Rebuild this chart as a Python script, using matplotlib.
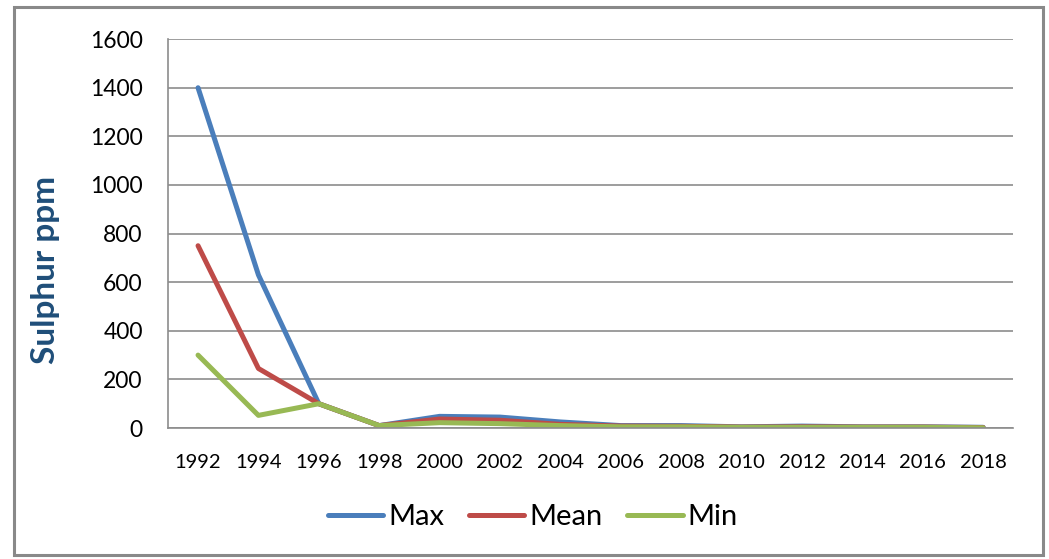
import matplotlib
matplotlib.use("Agg")
import matplotlib.pyplot as plt
from matplotlib.patches import Rectangle

plt.rcParams['font.family'] = ['Lato', 'DejaVu Sans']

years = ["1992", "1994", "1996", "1998", "2000", "2002", "2004",
         "2006", "2008", "2010", "2012", "2014", "2016", "2018"]
max_vals = [1400, 630, 100, 10, 48, 45, 25, 10, 10, 5, 8, 5, 5, 3]
mean_vals = [750, 245, 100, 10, 37, 32, 15, 8, 7, 4, 5, 4, 4, 2]
min_vals = [300, 52, 100, 10, 22, 18, 10, 5, 5, 3, 3, 3, 3, 1]

series_names = ["Max", "Mean", "Min"]
series_colors = ["#4A7EBB", "#BE4B48", "#98B954"]

fig = plt.figure(figsize=(10.49, 5.59), dpi=100)
ax = fig.add_axes([0.160, 0.2343, 0.806, 0.6957])

x = list(range(len(years)))
for vals, name, col in zip([max_vals, mean_vals, min_vals], series_names, series_colors):
    ax.plot(x, vals, color=col, lw=3.6, label=name, solid_capstyle="round",
            solid_joinstyle="round")

ax.set_xlim(-0.5, len(years) - 0.5)
ax.set_ylim(0, 1600)
ax.set_yticks(range(0, 1601, 200))
ax.set_xticks(x)
ax.set_xticklabels(years, fontsize=14.5)
ax.tick_params(axis="y", labelsize=16.5, length=0, pad=18)
ax.tick_params(axis="x", length=0, pad=19)

ax.grid(axis="y", color="#8C8C8C", lw=1.2)
ax.set_axisbelow(True)
for side in ["top", "right"]:
    ax.spines[side].set_visible(False)
for side in ["left", "bottom"]:
    ax.spines[side].set_color("#8C8C8C")
    ax.spines[side].set_linewidth(1.2)

# y axis title sits a bit below the plot centre in the original
fig.text(46 / 1049, 0.517, "Sulphur ppm", rotation=90, ha="center", va="center",
         fontsize=24, fontweight="bold", color="#1F4E79")

fig.legend(loc="center", bbox_to_anchor=(0.508, 0.075), ncol=3, frameon=False,
           fontsize=21, handlelength=1.9, handletextpad=0.17, columnspacing=0.85)

fig.patches.append(Rectangle((14 / 1049, 4 / 559), 1029 / 1049, 548 / 559,
                             transform=fig.transFigure, fill=False,
                             edgecolor="#898989", lw=2.2))

fig.savefig("out.png", dpi=100)
